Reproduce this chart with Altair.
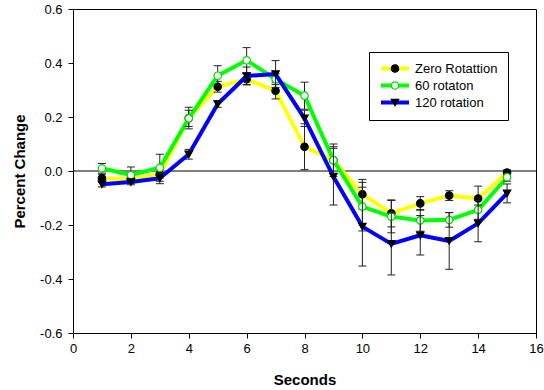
import altair as alt
import pandas as pd

# Time axis (seconds) and the three rotation conditions
seconds = list(range(1, 16))
series_names = ["Zero Rotattion", "60 rotaton", "120 rotation"]
marker_keys = ["m0", "m1", "m2"]

zero_rot = [-0.027, -0.030, -0.011, 0.196, 0.312, 0.340, 0.297, 0.090, 0.040,
            -0.086, -0.157, -0.120, -0.091, -0.102, -0.006]
zero_err = [0.015, 0.010, 0.015, 0.040, 0.020, 0.020, 0.030, 0.085, 0.050,
            0.055, 0.050, 0.025, 0.018, 0.046, 0.010]

rot60 = [0.010, -0.015, 0.012, 0.195, 0.353, 0.410, 0.340, 0.279, 0.040,
         -0.132, -0.169, -0.183, -0.181, -0.144, -0.023]
rot60_err = [0.018, 0.030, 0.050, 0.030, 0.037, 0.047, 0.020, 0.050, 0.060,
             0.090, 0.060, 0.040, 0.027, 0.035, 0.015]

rot120 = [-0.049, -0.041, -0.027, 0.062, 0.248, 0.352, 0.359, 0.195, -0.021,
          -0.206, -0.270, -0.238, -0.259, -0.194, -0.083]
rot120_err = [0.010, 0.010, 0.020, 0.018, 0.012, 0.033, 0.050, 0.030, 0.105,
              0.146, 0.115, 0.073, 0.105, 0.068, 0.035]

line_colors = ["#ffff00", "#00ff00", "#0000ff"]
marker_shapes = ["circle", "circle", "triangle-down"]
marker_fills = ["#000000", "#ffffff", "#000000"]
marker_strokes = ["#000000", "#00dd00", "#000000"]

rows = []
for name, key, vals, errs in zip(series_names, marker_keys,
                                 [zero_rot, rot60, rot120],
                                 [zero_err, rot60_err, rot120_err]):
    for s, v, e in zip(seconds, vals, errs):
        rows.append({"seconds": s, "value": v, "lo": v - e, "hi": v + e,
                     "series": name, "key": key})
df = pd.DataFrame(rows)

FONT = "Liberation Sans"

x_axis = alt.Axis(values=list(range(0, 17, 2)), title="Seconds",
                  labelPadding=4, titlePadding=17, labelFlush=False)
y_axis = alt.Axis(values=[-0.6, -0.4, -0.2, 0.0, 0.2, 0.4, 0.6],
                  title="Percent Change", labelPadding=6, titlePadding=12,
                  labelFlush=False,
                  labelExpr="replace(format(datum.value, '.1f'), '\u2212', '-')")
x_scale = alt.Scale(domain=[0, 16], nice=False, zero=False)
y_scale = alt.Scale(domain=[-0.6, 0.6], nice=False, zero=False)

X = alt.X("seconds:Q", scale=x_scale, axis=x_axis)

legend_common = dict(orient="none", title=None, padding=10, clipHeight=13,
                     rowPadding=3, labelFont=FONT, labelFontSize=13,
                     legendY=43)

# Line swatches carry the labels; marker swatches sit on top of them
line_legend = alt.Legend(symbolType="stroke", symbolSize=784,
                         symbolStrokeWidth=4, labelOffset=4,
                         strokeColor="#000000", fillColor="#ffffff",
                         legendX=296, **legend_common)
marker_legend = alt.Legend(symbolSize=55, symbolStrokeWidth=1.2,
                           symbolOpacity=1, labelExpr="''",
                           legendX=305.5, **legend_common)

color_enc = alt.Color("series:N",
                      scale=alt.Scale(domain=series_names, range=line_colors),
                      legend=line_legend)
shape_enc = alt.Shape("key:N",
                      scale=alt.Scale(domain=marker_keys, range=marker_shapes),
                      legend=marker_legend)
fill_enc = alt.Fill("key:N",
                    scale=alt.Scale(domain=marker_keys, range=marker_fills),
                    legend=marker_legend)
stroke_enc = alt.Stroke("key:N",
                        scale=alt.Scale(domain=marker_keys, range=marker_strokes),
                        legend=marker_legend)

base = alt.Chart(df)

# Reference line at zero change
zero_line = alt.Chart(pd.DataFrame({"value": [0.0]})).mark_rule(
    color="#000000", strokeWidth=1
).encode(y=alt.Y("value:Q", scale=y_scale, axis=y_axis))

layers = [zero_line]
for name in series_names:
    sub = base.transform_filter(alt.datum.series == name)
    line = sub.mark_line(strokeWidth=4, strokeJoin="round").encode(
        x=X, y=alt.Y("value:Q", scale=y_scale, axis=y_axis), color=color_enc
    )
    bars = sub.mark_rule(color="#222222", strokeWidth=1).encode(
        x=X, y=alt.Y("lo:Q", scale=y_scale, axis=y_axis), y2="hi:Q"
    )
    cap_lo = sub.mark_tick(color="#222222", thickness=1, size=8,
                           orient="horizontal", opacity=1).encode(
        x=X, y=alt.Y("lo:Q", scale=y_scale, axis=y_axis)
    )
    cap_hi = sub.mark_tick(color="#222222", thickness=1, size=8,
                           orient="horizontal", opacity=1).encode(
        x=X, y=alt.Y("hi:Q", scale=y_scale, axis=y_axis)
    )
    pts = sub.mark_point(size=55, strokeWidth=1.2, opacity=1).encode(
        x=X, y=alt.Y("value:Q", scale=y_scale, axis=y_axis),
        shape=shape_enc, fill=fill_enc, stroke=stroke_enc
    )
    layers += [line, bars, cap_lo, cap_hi, pts]

chart = alt.layer(*layers).properties(
    width=463, height=324,
    autosize=alt.AutoSizeParams(type="none"),
    padding={"left": 73, "top": 9, "right": 8, "bottom": 57},
    background="#ffffff",
).configure_view(
    stroke="#000000", strokeWidth=1
).configure_axis(
    grid=False, domainColor="#000000", tickColor="#000000", tickSize=5,
    labelColor="#000000", titleColor="#000000", labelFont=FONT,
    labelFontSize=13, titleFont=FONT, titleFontSize=15, titleFontWeight="bold"
)

chart.save("out.html", embed_options={"renderer": "svg", "actions": False})
